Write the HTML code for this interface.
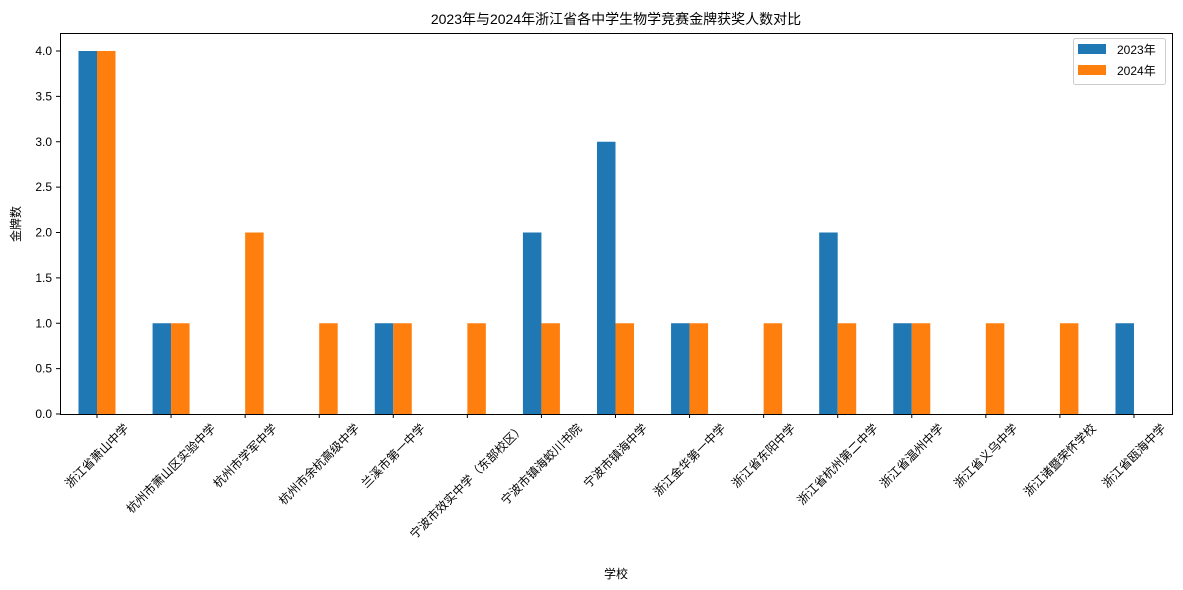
<!DOCTYPE html>
<html><head><meta charset="utf-8"><style>body{margin:0;background:#fff}svg{display:block;font-family:"Liberation Sans","Noto Sans CJK SC",sans-serif}</style></head>
<body>
<svg id="c" width="1183" height="590">
<text x="616" y="24" font-size="14" text-anchor="middle">2023年与2024年浙江省各中学生物学竞赛金牌获奖人数对比</text>
<text x="616" y="578" font-size="12" text-anchor="middle">学校</text>
<text transform="translate(20,224) rotate(-90)" font-size="12" text-anchor="middle">金牌数</text>
<g id="plot"></g>
<rect x="60.5" y="33.5" width="1112" height="381" fill="none" stroke="#000" stroke-width="1"/>
<g>
<rect x="1073.5" y="38.5" width="92" height="46" fill="#fff" stroke="#ccc" rx="2"/>
<rect x="1078" y="44" width="28" height="10" fill="#1f77b4"/>
<text x="1117" y="54" font-size="12">2023年</text>
<rect x="1078" y="65" width="28" height="10" fill="#ff7f0e"/>
<text x="1117" y="75" font-size="12">2024年</text>
</g>
</svg>
<script>
const categories=["浙江省萧山中学","杭州市萧山区实验中学","杭州市学军中学","杭州市余杭高级中学","兰溪市第一中学","宁波市效实中学（东部校区）","宁波市镇海蛟川书院","宁波市镇海中学","浙江金华第一中学","浙江省东阳中学","浙江省杭州第二中学","浙江省温州中学","浙江省义乌中学","浙江诸暨荣怀学校","浙江省瓯海中学"];
const s2023=[4,1,0,0,1,0,2,3,1,0,2,1,0,0,1];
const s2024=[4,1,2,1,1,1,1,1,1,1,1,1,1,1,0];
const yTicks=[0,0.5,1,1.5,2,2.5,3,3.5,4];
const NS="http://www.w3.org/2000/svg";
const g=document.getElementById('plot');
const x0=97, step=74.07, bw=18.5;
const xs=i=>x0+i*step;
const ys=v=>414-v*90.75;
function mk(t,a){const e=document.createElementNS(NS,t);for(const k in a)e.setAttribute(k,a[k]);g.appendChild(e);return e;}
yTicks.forEach(v=>{
 const y=ys(v);
 const l=mk('line',{x1:56,x2:60,y1:y,y2:y,stroke:'#000'});
 
 
 const t=mk('text',{x:52,y:y+4,'font-size':12,'text-anchor':'end'});
 t.textContent=v.toFixed(1);
 
 
});
categories.forEach((c,i)=>{
 const x=xs(i);
 const r1=mk('rect',{x:x-bw,y:ys(s2023[i]),width:bw,height:414-ys(s2023[i]),fill:'#1f77b4'});
 
 
 const r2=mk('rect',{x:x,y:ys(s2024[i]),width:bw,height:414-ys(s2024[i]),fill:'#ff7f0e'});
 
 
 const tk=mk('line',{x1:x,x2:x,y1:414,y2:418,stroke:'#000'});
 
 
 const t=mk('text',{'font-size':12,'text-anchor':'middle','dominant-baseline':'central'});
 t.textContent=c;
 
 
 const L=t.getComputedTextLength();
 const half=(L+12)*0.7071/2;
 t.setAttribute('transform',`translate(${x},${422+half}) rotate(-45)`);
});
</script>
</body></html>
